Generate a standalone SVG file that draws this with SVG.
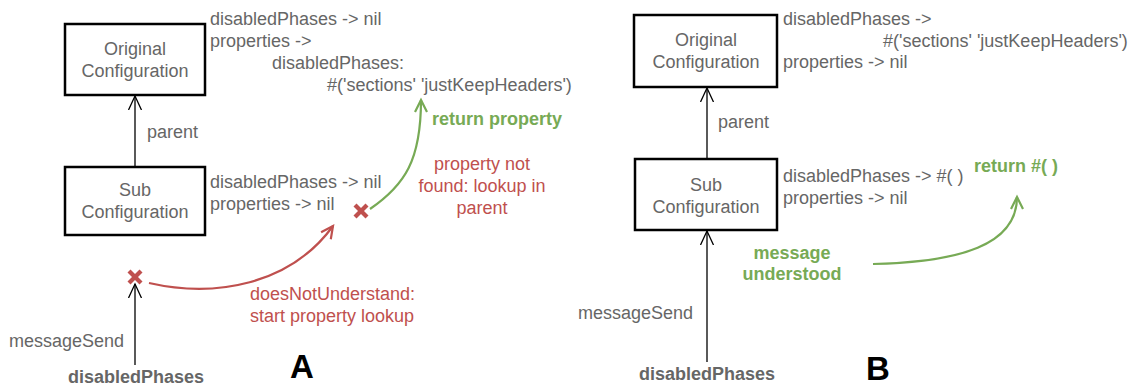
<svg xmlns="http://www.w3.org/2000/svg" width="1143" height="387" viewBox="0 0 1143 387">
<style>
text{font-family:"Liberation Sans",Arial,Helvetica,sans-serif;font-size:18px;fill:#666666}
.b{font-weight:bold}
.c{text-anchor:middle}
.g{fill:#77aa55}
.r{fill:#bf504e}
.big{font-size:33px;font-weight:bold;fill:#000000;text-anchor:middle}
.box{fill:#ffffff;stroke:#000000;stroke-width:2.5}
.k{fill:none;stroke:#000000;stroke-width:1.3}
.gl{fill:none;stroke:#77aa55;stroke-width:2.2}
.rl{fill:none;stroke:#bf504e;stroke-width:2.2}
.x{stroke:#bf504e;stroke-width:4.2}
</style>
<defs>
<marker id="ak" markerUnits="userSpaceOnUse" markerWidth="16" markerHeight="16" refX="14" refY="7" orient="auto"><path d="M0,0.5 L14,7 L0,13.5" fill="none" stroke="#000000" stroke-width="1.3"/></marker>
<marker id="ag" markerUnits="userSpaceOnUse" markerWidth="16" markerHeight="16" refX="13" refY="7" orient="auto"><path d="M1,1 L13,7 L1,13" fill="none" stroke="#77aa55" stroke-width="2.2"/></marker>
<marker id="ar" markerUnits="userSpaceOnUse" markerWidth="16" markerHeight="16" refX="13" refY="7" orient="auto"><path d="M1,1 L13,7 L1,13" fill="none" stroke="#bf504e" stroke-width="2.2"/></marker>
</defs>

<g id="connectors">
<line class="k" x1="135" y1="167" x2="135" y2="96" marker-end="url(#ak)"/>
<line class="k" x1="135" y1="365" x2="135" y2="284" marker-end="url(#ak)"/>
<path class="rl" d="M149,283 C215,298 290,285 333,226" marker-end="url(#ar)"/>
<path class="gl" d="M370,209 C405,185 421,160 421,100" marker-end="url(#ag)"/>
<line class="k" x1="707" y1="159" x2="707" y2="88" marker-end="url(#ak)"/>
<line class="k" x1="707" y1="362" x2="707" y2="231" marker-end="url(#ak)"/>
<path class="gl" d="M873,264 C960,262 1017,245 1017,197" marker-end="url(#ag)"/>
</g>

<g id="a-original">
<rect class="box" x="65" y="24" width="140" height="71"/>
<text class="c" x="135" y="55">Original</text>
<text class="c" x="135" y="77">Configuration</text>
</g>
<g id="a-original-props">
<text x="210" y="25">disabledPhases -&gt; nil</text>
<text x="210" y="47">properties -&gt;</text>
<text x="272" y="69">disabledPhases:</text>
<text x="327" y="91">#('sections' 'justKeepHeaders')</text>
</g>
<g id="a-sub">
<rect class="box" x="65" y="167" width="140" height="68"/>
<text class="c" x="135" y="196">Sub</text>
<text class="c" x="135" y="218">Configuration</text>
</g>
<g id="a-sub-props">
<text x="210" y="188">disabledPhases -&gt; nil</text>
<text x="210" y="210">properties -&gt; nil</text>
</g>
<g id="a-labels">
<text x="147" y="138">parent</text>
<text x="9" y="347">messageSend</text>
<text class="b c" x="136" y="383">disabledPhases</text>
<text class="r" x="250" y="300">doesNotUnderstand:</text>
<text class="r" x="250" y="322">start property lookup</text>
<text class="r c" x="482" y="170">property not</text>
<text class="r c" x="482" y="192">found: lookup in</text>
<text class="r c" x="482" y="214">parent</text>
<text class="b g" x="432" y="125">return property</text>
<text class="big" x="302" y="378">A</text>
</g>
<g id="a-x1"><line class="x" x1="129" y1="271" x2="141" y2="283"/><line class="x" x1="141" y1="271" x2="129" y2="283"/></g>
<g id="a-x2"><line class="x" x1="355" y1="205" x2="367" y2="217"/><line class="x" x1="367" y1="205" x2="355" y2="217"/></g>

<g id="b-original">
<rect class="box" x="634" y="15" width="143" height="72"/>
<text class="c" x="706" y="46">Original</text>
<text class="c" x="706" y="68">Configuration</text>
</g>
<g id="b-original-props">
<text x="783" y="25">disabledPhases -&gt;</text>
<text x="883" y="47">#('sections' 'justKeepHeaders')</text>
<text x="783" y="68">properties -&gt; nil</text>
</g>
<g id="b-sub">
<rect class="box" x="635" y="159" width="142" height="71"/>
<text class="c" x="706" y="191">Sub</text>
<text class="c" x="706" y="213">Configuration</text>
</g>
<g id="b-sub-props">
<text x="783" y="182">disabledPhases -&gt; #( )</text>
<text x="783" y="204">properties -&gt; nil</text>
</g>
<g id="b-labels">
<text x="718" y="128">parent</text>
<text x="578" y="319">messageSend</text>
<text class="b c" x="707" y="380">disabledPhases</text>
<text class="b g c" x="792" y="259">message</text>
<text class="b g c" x="792" y="280">understood</text>
<text class="b g" x="974" y="172">return #( )</text>
<text class="big" x="878" y="380">B</text>
</g>
</svg>
